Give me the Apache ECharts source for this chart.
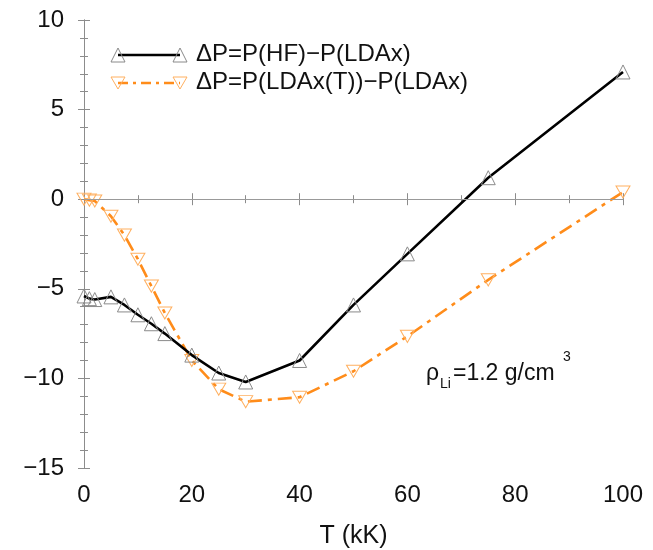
<!DOCTYPE html>
<html>
<head>
<meta charset="utf-8">
<script src="https://cdn.jsdelivr.net/npm/echarts@6/dist/echarts.min.js"></script>
<style>html,body{margin:0;padding:0;background:#fff}#c{width:653px;height:550px}</style>
</head>
<body>
<div id="c"></div>
<script>
// Data
const T = [0, 1, 2, 5, 7.5, 10, 12.5, 15, 20, 25, 30, 40, 50, 60, 75, 100];
const dP_HF = [-5.4, -5.55, -5.6, -5.45, -5.9, -6.45, -6.95, -7.5, -8.7, -9.7, -10.2, -9.0, -5.9, -3.05, 1.2, 7.1];
const dP_LDAxT = [0.0, -0.05, -0.1, -0.95, -2.0, -3.35, -4.85, -6.35, -9.0, -10.6, -11.3, -11.05, -9.6, -7.65, -4.5, 0.4];
const xTicks = [0, 20, 40, 60, 80, 100];
const yTicks = [-15, -10, -5, 0, 5, 10];
const seriesNames = ['ΔP=P(HF)−P(LDAx)', 'ΔP=P(LDAx(T))−P(LDAx)'];

const FONT = 'Liberation Sans';
const frame = '#8c8c8c';
const orange = '#ff8c1a';
const orangeLight = '#ffb060';
const markGray = '#8a8a8a';
const downTri = 'path://M0,0 L10,0 L5,8.66 Z';

const chart = echarts.init(document.getElementById('c'), null, {renderer: 'canvas'});
const pairs = (xs, ys) => xs.map((x, i) => [x, ys[i]]);
const minus = v => String(v).replace('-', '\u2212');

const axisCommon = {
  axisLine: {show: true, lineStyle: {color: frame, width: 1}},
  axisTick: {show: true, inside: true, length: 6, lineStyle: {color: frame}},
  splitLine: {show: false}
};
const minorX = {minorTick: {show: true, splitNumber: 2, length: 4, lineStyle: {color: frame}}};
const minorY = {minorTick: {show: true, splitNumber: 5, length: 4, lineStyle: {color: frame}}};

const option = {
  animation: false,
  backgroundColor: '#fff',
  grid: {left: 84, right: 30, top: 20, bottom: 82, containLabel: false, outerBoundsMode: 'none'},
  xAxis: [
    Object.assign({
      type: 'value', min: 0, max: 100, interval: 20, position: 'bottom',
      name: 'T (kK)', nameLocation: 'middle', nameGap: 56,
      nameTextStyle: {fontFamily: FONT, fontSize: 25, color: '#111'},
      axisLabel: {fontFamily: FONT, fontSize: 24, color: '#111', margin: 15,
        formatter: v => xTicks.includes(v) ? minus(v) : ''}
    }, axisCommon, minorX),
    Object.assign({
      type: 'value', min: 0, max: 100, interval: 20, position: 'top',
      axisLabel: {show: false}
    }, axisCommon, minorX)
  ],
  yAxis: [
    Object.assign({
      type: 'value', min: -15, max: 10, interval: 5, position: 'left',
      axisLabel: {fontFamily: FONT, fontSize: 24, color: '#111', margin: 20,
        formatter: v => yTicks.includes(v) ? minus(v) : ''}
    }, axisCommon, minorY),
    Object.assign({
      type: 'value', min: -15, max: 10, interval: 5, position: 'right',
      axisLabel: {show: false}
    }, axisCommon, minorY)
  ],
  series: [
    {
      name: seriesNames[0], type: 'line', data: pairs(T, dP_HF),
      symbol: 'triangle', symbolSize: 14, showAllSymbol: true,
      lineStyle: {color: '#000', width: 2.6},
      itemStyle: {color: 'rgba(0,0,0,0)', borderColor: markGray, borderWidth: 1},
      z: 3,
      markLine: {
        silent: true, symbol: 'none', label: {show: false},
        lineStyle: {color: '#999', width: 1, type: 'solid'},
        data: [{yAxis: 0}]
      }
    },
    {
      name: seriesNames[1], type: 'line', data: pairs(T, dP_LDAxT),
      symbol: downTri, symbolSize: [14, 12.1], showAllSymbol: true,
      lineStyle: {color: orange, width: 2.6, type: [14, 6, 4, 6]},
      itemStyle: {color: 'rgba(0,0,0,0)', borderColor: orangeLight, borderWidth: 1},
      z: 2
    }
  ],
  graphic: [
    // legend row 1
    {type: 'line', shape: {x1: 118, y1: 55, x2: 180, y2: 55}, style: {stroke: '#000', lineWidth: 2.5}, z: 10},
    {type: 'polygon', shape: {points: [[118, 48], [111, 62], [125, 62]]}, style: {fill: 'none', stroke: markGray, lineWidth: 1}, z: 11},
    {type: 'polygon', shape: {points: [[180, 48], [173, 62], [187, 62]]}, style: {fill: 'none', stroke: markGray, lineWidth: 1}, z: 11},
    {type: 'text', left: 196, top: 42, style: {text: seriesNames[0], fontFamily: FONT, fontSize: 24, fill: '#111'}, z: 11},
    // legend row 2
    {type: 'line', shape: {x1: 118, y1: 83, x2: 180, y2: 83}, style: {stroke: orange, lineWidth: 2.5, lineDash: [10, 5, 3, 5]}, z: 10},
    {type: 'polygon', shape: {points: [[111, 77], [125, 77], [118, 89]]}, style: {fill: 'none', stroke: orangeLight, lineWidth: 1}, z: 11},
    {type: 'polygon', shape: {points: [[173, 77], [187, 77], [180, 89]]}, style: {fill: 'none', stroke: orangeLight, lineWidth: 1}, z: 11},
    {type: 'text', left: 196, top: 70, style: {text: seriesNames[1], fontFamily: FONT, fontSize: 24, fill: '#111'}, z: 11},
    // annotation
    {type: 'text', left: 426, top: 362, style: {text: 'ρ', fontFamily: FONT, fontSize: 23, fill: '#111'}, z: 11},
    {type: 'text', left: 440, top: 377, style: {text: 'Li', fontFamily: FONT, fontSize: 14, fill: '#111'}, z: 11},
    {type: 'text', left: 453, top: 362, style: {text: '=1.2 g/cm', fontFamily: FONT, fontSize: 23, fill: '#111'}, z: 11},
    {type: 'text', left: 563, top: 350, style: {text: '3', fontFamily: FONT, fontSize: 14, fill: '#111'}, z: 11}
  ]
};
chart.setOption(option);
</script>
</body>
</html>
